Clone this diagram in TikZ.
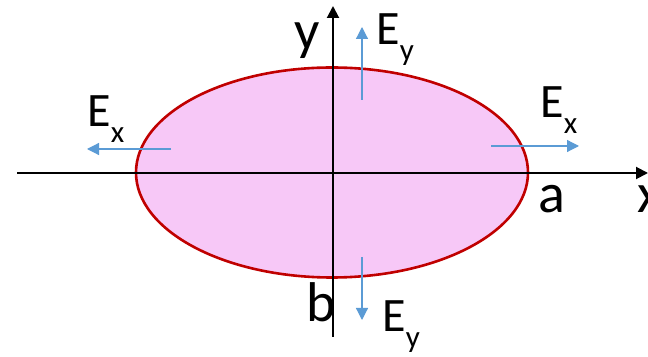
\documentclass[tikz,border=0pt]{standalone}
\usepackage{fontspec}
\setmainfont{Carlito}
\usepackage{xcolor}
\usetikzlibrary{arrows.meta,shapes.geometric}
\definecolor{rimred}{HTML}{C00000}
\definecolor{platepink}{HTML}{F7C8F7}
\definecolor{fieldblue}{HTML}{5B9BD5}
\newcommand{\Ecomp}[1]{E\raisebox{-8pt}{\fontsize{15.5}{15.5}\selectfont #1}}

\begin{document}
\begin{tikzpicture}[x=0.5pt,y=-0.5pt,
		ax/.style={-{Triangle[length=6pt,width=6pt]},draw=black,line width=1pt},
		fe/.style={-{Triangle[length=6pt,width=6pt]},draw=fieldblue,line width=0.6pt},
		lab/.style={inner sep=0pt,font=\fontsize{28}{28}\selectfont},
		comp/.style={inner sep=0pt,anchor=base west,font=\fontsize{24}{24}\selectfont}
		]
		\useasboundingbox (0,0) rectangle (648,357);
		% plate
		\node[ellipse,draw=rimred,fill=platepink,line width=1.3pt,inner sep=0pt,
			minimum width=196pt,minimum height=105pt] (plate) at (332,172.5) {};

		% axes
		\coordinate (xs) at (17,173); \coordinate (xe) at (648,173);
		\coordinate (ys) at (333,337); \coordinate (ye) at (333,6);
		\draw[ax] (xs)--(xe);
		\draw[ax] (ys)--(ye);
		\node[lab,anchor=base east] (ylab) at (320,50) {y};
		\node[lab,anchor=base west] (xlab) at (637,213) {x};
		\node[lab,anchor=base west] (alab) at (538,213) {a};
		\node[lab,anchor=base west] (blab) at (306,322) {b};

		% field arrows
		\coordinate (t1) at (362,100); \coordinate (t2) at (362,27);
		\coordinate (b1) at (362,257); \coordinate (b2) at (362,320);
		\coordinate (l1) at (171,149); \coordinate (l2) at (87,149);
		\coordinate (r1) at (491,146); \coordinate (r2) at (579,146);
		\draw[fe] (t1)--(t2); \draw[fe] (b1)--(b2);
		\draw[fe] (l1)--(l2); \draw[fe] (r1)--(r2);
		\node[comp] (eyt) at (376,45) {\Ecomp{y}};
		\node[comp] (eyb) at (382,332) {\Ecomp{y}};
		\node[comp] (exl) at (87,127) {\Ecomp{x}};
		\node[comp] (exr) at (540,118) {\Ecomp{x}};
	\end{tikzpicture}
\end{document}
